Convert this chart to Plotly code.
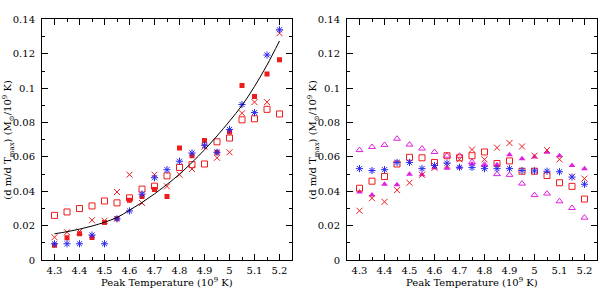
import plotly.graph_objects as go

# Temperatures (10^9 K)
T = [4.3, 4.35, 4.4, 4.45, 4.5, 4.55, 4.6, 4.65, 4.7, 4.75, 4.8, 4.85, 4.9, 4.95, 5.0, 5.05, 5.1, 5.15, 5.2]

# Left panel series
left_filled_sq = [0.0087, 0.013, 0.0153, 0.0132, 0.0218, 0.024, 0.0348, 0.037, 0.0411, 0.037, 0.0652, 0.0607,
                  0.0695, 0.0627, 0.0745, 0.1016, 0.0951, 0.1083, 0.1166]
left_star = [0.0095, 0.0095, 0.0095, 0.0146, 0.0095, 0.024, 0.0286, 0.0384, 0.0479, 0.0526, 0.0575, 0.0623,
             0.0668, 0.0627, 0.076, 0.0905, 0.0858, 0.1193, 0.134]
left_cross = [0.0133, 0.0162, 0.0166, 0.0232, 0.0229, 0.0396, 0.0497, 0.0332, 0.0497, 0.0429, 0.0497, 0.053,
              0.066, 0.0595, 0.0627, 0.0854, 0.0919, 0.0919, 0.132]
left_open_sq = [0.026, 0.028, 0.030, 0.0315, 0.0344, 0.0333, 0.0362, 0.0413, 0.043, 0.049, 0.0539, 0.0555,
                0.0559, 0.0688, 0.071, 0.0816, 0.0822, 0.0877, 0.085]
fit_curve = [0.0153, 0.0165, 0.0180, 0.0198, 0.0220, 0.0248, 0.0290, 0.0335, 0.0385, 0.0440, 0.0500, 0.0568,
             0.0642, 0.0722, 0.0808, 0.0900, 0.1010, 0.1135, 0.1275]

# Right panel series
right_open_tri = [0.064, 0.0658, 0.067, 0.0706, 0.0672, 0.0649, 0.0629, 0.0607, 0.0607, 0.0571, 0.0555, 0.050,
                  0.0496, 0.0445, 0.0378, 0.0387, 0.0342, 0.0303, 0.0247]
right_filled_tri = [0.0396, 0.0378, 0.0441, 0.0438, 0.050, 0.0496, 0.0537, 0.0535, 0.054, 0.0559, 0.055, 0.0555,
                    0.0613, 0.0589, 0.060, 0.0627, 0.0607, 0.055, 0.0532]
right_cross = [0.0287, 0.036, 0.0339, 0.0407, 0.045, 0.0496, 0.0537, 0.055, 0.0586, 0.0643, 0.0586, 0.0654,
               0.0681, 0.0661, 0.0607, 0.064, 0.0586, 0.0485, 0.0474]
right_open_sq = [0.0418, 0.0459, 0.0486, 0.0559, 0.0598, 0.0595, 0.0568, 0.0607, 0.0595, 0.0607, 0.0629, 0.0562,
                 0.0577, 0.0517, 0.0517, 0.0492, 0.045, 0.0429, 0.0355]
right_star = [0.0532, 0.0521, 0.0526, 0.0568, 0.0568, 0.0532, 0.055, 0.0564, 0.054, 0.0539, 0.0532, 0.0532,
              0.0532, 0.0521, 0.0519, 0.0517, 0.0514, 0.0483, 0.0441]

RED = "#ee1c1c"
BLUE = "#2b2bf0"
MAG = "#e020e0"
FONT = "DejaVu Serif"

fig = go.Figure()

def sc(y, sym, color, size, xa, ya, width=1):
    fig.add_trace(go.Scatter(x=T, y=y, mode="markers", xaxis=xa, yaxis=ya,
                             marker=dict(symbol=sym, color=color, size=size,
                                         line=dict(color=color, width=width)),
                             showlegend=False, hoverinfo="skip"))

# Left
sc(left_open_sq, "square-open", RED, 6, "x", "y")
sc(left_cross, "x-thin-open", RED, 6, "x", "y")
sc(left_filled_sq, "square", RED, 5, "x", "y", 0)
sc(left_star, "asterisk-open", BLUE, 6, "x", "y")
fig.add_trace(go.Scatter(x=T, y=fit_curve, mode="lines", line=dict(color="black", width=1, shape="spline"),
                         xaxis="x", yaxis="y", showlegend=False, hoverinfo="skip"))

# Right
sc(right_open_tri, "triangle-up-open", MAG, 6, "x2", "y2")
sc(right_filled_tri, "triangle-up", MAG, 6, "x2", "y2", 0)
sc(right_cross, "x-thin-open", RED, 6, "x2", "y2")
sc(right_open_sq, "square-open", RED, 6, "x2", "y2")
sc(right_star, "asterisk-open", BLUE, 6, "x2", "y2")

W, H = 600, 294
L1, R1 = 42, 292
L2, R2 = 347, 597
TOP, BOT = 15, 265

xcommon = dict(range=[4.25, 5.25], dtick=0.1, tick0=4.3, ticks="inside", ticklen=6, tickcolor="black",
               showline=True, linecolor="black", linewidth=1, mirror="allticks", showgrid=False,
               zeroline=False, tickfont=dict(family=FONT, size=10, color="black"),
               minor=dict(dtick=0.05, tick0=4.25, ticks="inside", ticklen=3, tickcolor="black", showgrid=False),
               ticklabelstandoff=1)
ycommon = dict(range=[0, 0.14], dtick=0.02, tick0=0, ticks="inside", ticklen=6, tickcolor="black",
               showline=True, linecolor="black", linewidth=1, mirror="allticks", showgrid=False,
               zeroline=False, tickfont=dict(family=FONT, size=10, color="black"),
               minor=dict(dtick=0.01, ticks="inside", ticklen=3, tickcolor="black", showgrid=False),
               ticklabelstandoff=4)

fig.update_layout(
    width=W, height=H, margin=dict(l=0, r=0, t=0, b=0),
    paper_bgcolor="white", plot_bgcolor="white",
    xaxis=dict(domain=[L1 / W, R1 / W], anchor="y", **xcommon),
    yaxis=dict(domain=[(H - BOT) / H, (H - TOP) / H], anchor="x", **ycommon),
    xaxis2=dict(domain=[L2 / W, R2 / W], anchor="y2", **xcommon),
    yaxis2=dict(domain=[(H - BOT) / H, (H - TOP) / H], anchor="x2", **ycommon),
)

xt = "Peak Temperature (10<sup>9</sup> K)"
yt = "(d m/d T<sub>max</sub>) (M<sub>⊙</sub>/10<sup>9</sup> K)"
ann = []
for (l, r) in [(L1, R1), (L2, R2)]:
    ann.append(dict(text=xt, x=(l + r) / 2 / W, y=0, xref="paper", yref="paper",
                    showarrow=False, font=dict(family=FONT, size=10, color="black"),
                    xanchor="center", yanchor="bottom", borderpad=0, yshift=-1))
for xc in [8, 313]:
    ann.append(dict(text=yt, x=xc / W, y=(H - (TOP + BOT) / 2) / H, xref="paper", yref="paper",
                    showarrow=False, textangle=-90, font=dict(family=FONT, size=10, color="black"),
                    xanchor="center", yanchor="middle"))
fig.update_layout(annotations=ann)

fig.write_html("out.html", config={"displayModeBar": False},
               post_script="document.body.style.margin='0';document.body.style.overflow='hidden';")
